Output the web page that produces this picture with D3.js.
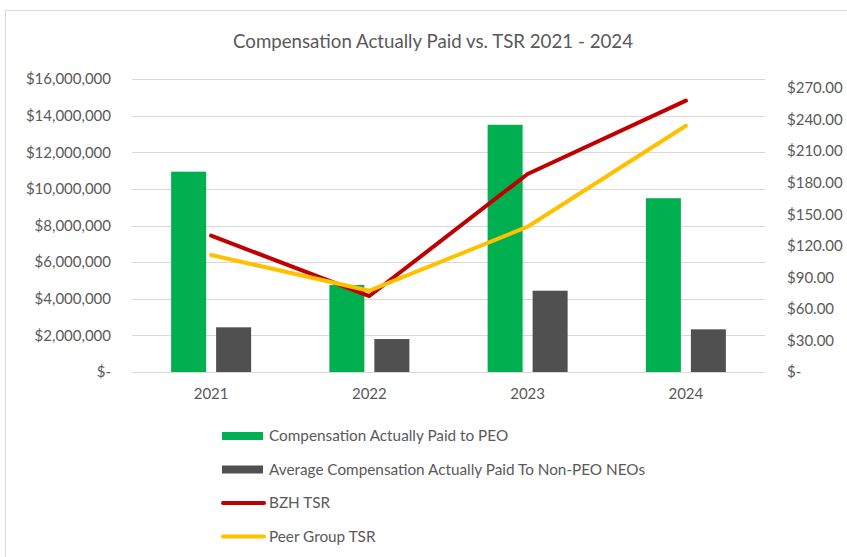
<!DOCTYPE html>
<html>
<head>
<meta charset="utf-8">
<script src="https://cdn.jsdelivr.net/npm/d3@7"></script>
<style>
  body { margin: 0; background: #fff; }
  text { font-family: Lato, "Open Sans", sans-serif; fill: #595959; }
</style>
</head>
<body>
<div id="chart"></div>
<script>
// data
var years = ["2021", "2022", "2023", "2024"];
var peoPaid = [10940000, 4750000, 13500000, 9490000];
var neoPaid = [2440000, 1800000, 4440000, 2330000];
var bzhTsr = [129.6, 72.2, 188.2, 257.9];
var peerTsr = [111.2, 77.3, 138.1, 234.1];
var leftTicks = [0, 2000000, 4000000, 6000000, 8000000, 10000000, 12000000, 14000000, 16000000];
var rightTicks = [0, 30, 60, 90, 120, 150, 180, 210, 240, 270];
var seriesNames = ["Compensation Actually Paid to PEO", "Average Compensation Actually Paid To Non-PEO NEOs", "BZH TSR", "Peer Group TSR"];
var colors = ["#00B050", "#505050", "#C00000", "#FFC000"];

var W = 847, H = 557;
var margin = { top: 79, right: 82, bottom: 185, left: 132 };
var width = W - margin.left - margin.right,
    height = H - margin.top - margin.bottom;

var svg = d3.select("#chart")
    .append("svg")
    .attr("width", W)
    .attr("height", H);

// chart frame (only top and left edges show in the crop)
svg.append("path")
    .attr("d", "M5.5," + H + "V10.5H" + W)
    .attr("fill", "none")
    .attr("stroke", "#D9D9D9");

svg.append("text")
    .attr("x", 433)
    .attr("y", 48)
    .attr("text-anchor", "middle")
    .style("font-size", "18.7px")
    .text("Compensation Actually Paid vs. TSR 2021 - 2024");

var g = svg.append("g")
    .attr("transform", "translate(" + margin.left + "," + margin.top + ")");

var x = d3.scaleBand()
    .domain(years)
    .range([0, width]);

var xSub = d3.scaleBand()
    .domain(["peo", "neo"])
    .range([-40, 40])
    .paddingInner(0.222);

var yLeft = d3.scaleLinear()
    .domain([0, 16000000])
    .range([height, 0]);

var yRight = d3.scaleLinear()
    .domain([0, 278.5])
    .range([height, 0]);

// gridlines
g.append("g")
    .selectAll("line")
    .data(leftTicks)
    .enter().append("line")
    .attr("x1", 0)
    .attr("x2", width)
    .attr("y1", function(d) { return Math.round(yLeft(d)) + 0.5; })
    .attr("y2", function(d) { return Math.round(yLeft(d)) + 0.5; })
    .attr("stroke", "#D9D9D9")
    .attr("stroke-width", 1);

// left axis
var leftAxis = g.append("g")
    .call(d3.axisLeft(yLeft).tickValues(leftTicks).tickSize(0).tickPadding(21)
        .tickFormat(function(d) { return d === 0 ? "$-" : "$" + d3.format(",")(d); }));
leftAxis.select(".domain").remove();
leftAxis.selectAll("text").style("font-size", "15px");

// right axis
var rightAxis = g.append("g")
    .attr("transform", "translate(" + width + ",0)")
    .call(d3.axisRight(yRight).tickValues(rightTicks).tickSize(0).tickPadding(22)
        .tickFormat(function(d) { return d === 0 ? "$-" : "$" + d3.format(".2f")(d); }));
rightAxis.select(".domain").remove();
rightAxis.selectAll("text").style("font-size", "15px");

// bottom axis
var bottomAxis = g.append("g")
    .attr("transform", "translate(0," + height + ")")
    .call(d3.axisBottom(x).tickSize(0).tickPadding(16));
bottomAxis.select(".domain").remove();
bottomAxis.selectAll("text").style("font-size", "15px");

// bars
var groups = g.selectAll(".year")
    .data(years)
    .enter().append("g")
    .attr("transform", function(d) { return "translate(" + (x(d) + x.bandwidth() / 2) + ",0)"; });

groups.append("rect")
    .attr("x", xSub("peo"))
    .attr("width", xSub.bandwidth())
    .attr("y", function(d, i) { return yLeft(peoPaid[i]); })
    .attr("height", function(d, i) { return height - yLeft(peoPaid[i]); })
    .attr("fill", colors[0]);

groups.append("rect")
    .attr("x", xSub("neo"))
    .attr("width", xSub.bandwidth())
    .attr("y", function(d, i) { return yLeft(neoPaid[i]); })
    .attr("height", function(d, i) { return height - yLeft(neoPaid[i]); })
    .attr("fill", colors[1]);

// lines
var line = d3.line()
    .x(function(d, i) { return x(years[i]) + x.bandwidth() / 2; })
    .y(function(d) { return yRight(d); });

[bzhTsr, peerTsr].forEach(function(series, k) {
    g.append("path")
        .datum(series)
        .attr("fill", "none")
        .attr("stroke", colors[2 + k])
        .attr("stroke-width", 4)
        .attr("stroke-linejoin", "round")
        .attr("stroke-linecap", "round")
        .attr("d", line);
});

// legend
var legend = svg.append("g")
    .attr("transform", "translate(222,436)");

var items = legend.selectAll("g")
    .data(seriesNames)
    .enter().append("g")
    .attr("transform", function(d, i) { return "translate(0," + (i * 33.5) + ")"; });

items.each(function(d, i) {
    var it = d3.select(this);
    if (i < 2) {
        it.append("rect")
            .attr("x", 0).attr("y", -4)
            .attr("width", 41).attr("height", 8)
            .attr("fill", colors[i]);
    } else {
        it.append("line")
            .attr("x1", 1).attr("x2", 42)
            .attr("y1", 0).attr("y2", 0)
            .attr("stroke", colors[i])
            .attr("stroke-width", 4)
            .attr("stroke-linecap", "round");
    }
    it.append("text")
        .attr("x", 47)
        .attr("dy", "0.35em")
        .style("font-size", "15.3px")
        .text(d);
});
</script>
</body>
</html>
